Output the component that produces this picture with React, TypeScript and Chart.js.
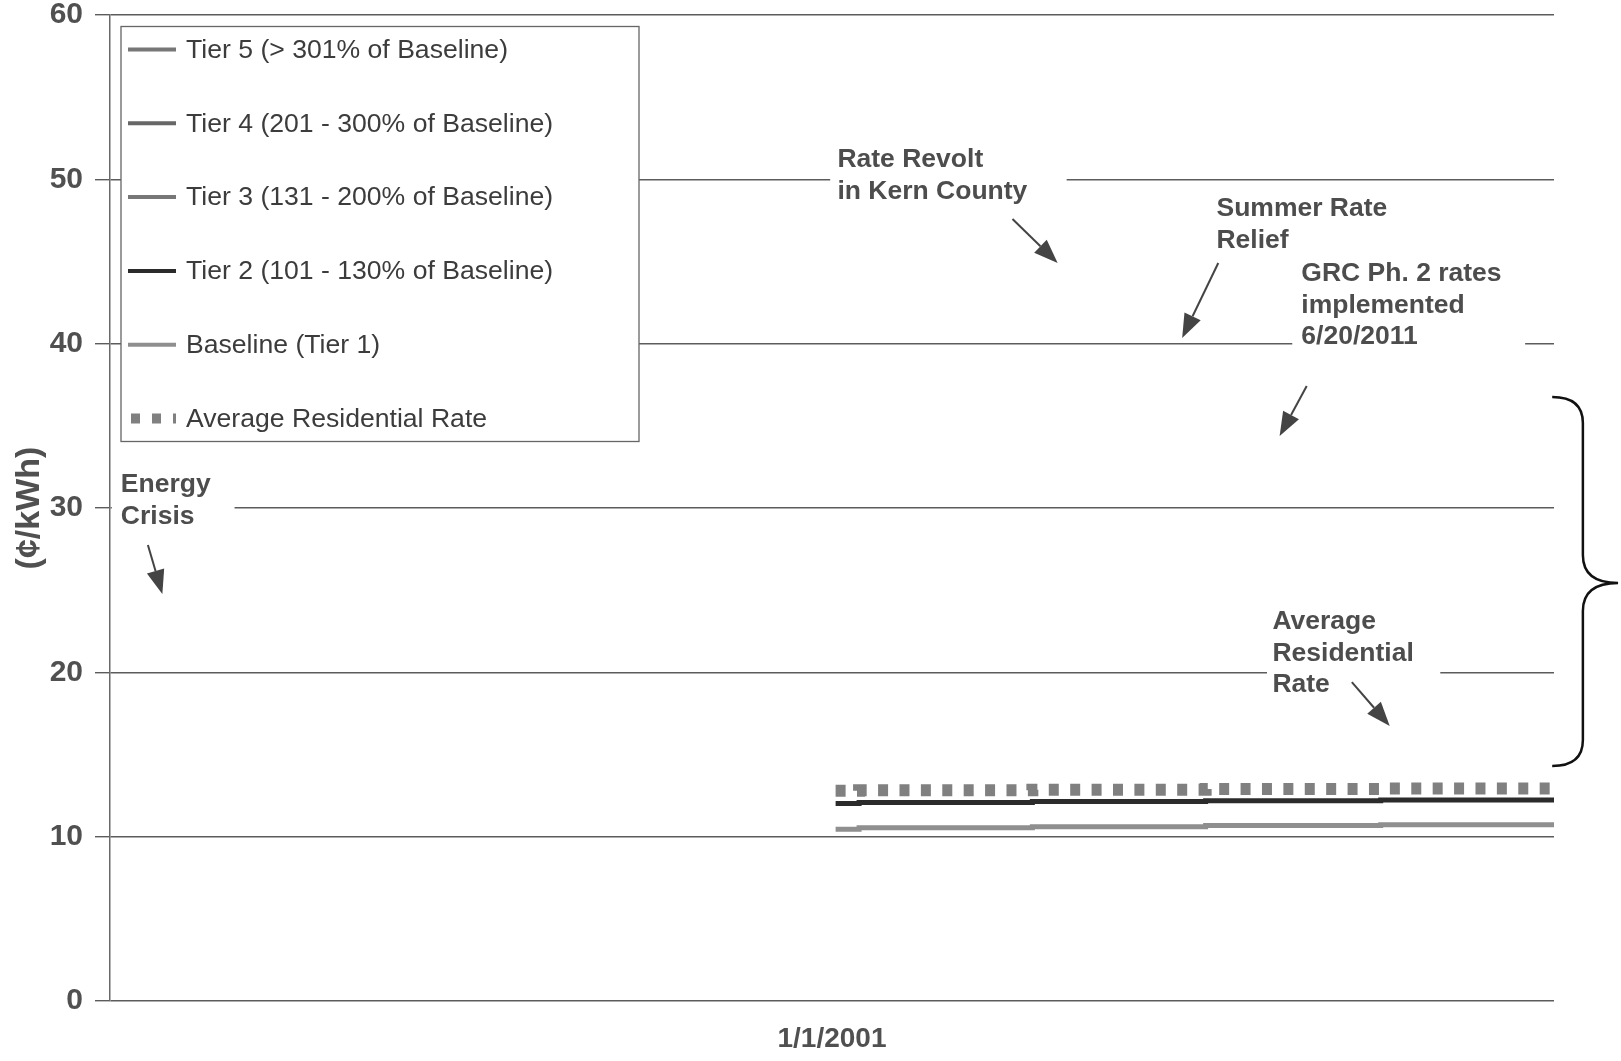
import React, { useEffect, useRef } from 'react';
import { Chart, registerables } from 'chart.js';

Chart.register(...registerables);

const FONT = '"Liberation Sans", Arial, Helvetica, sans-serif';

// ---- axis definitions ----
const X_MIN = 1997;
const X_MAX = 2005;
const X_TICK_VALUES = [2001];
const X_TICK_LABELS = ['1/1/2001'];
const Y_MIN = 0;
const Y_MAX = 60;
const Y_STEP = 10;
const Y_TITLE = '(¢/kWh)';

// ---- series (rate in ¢/kWh, step changes at these dates) ----
const STEP_DATES = [2001.02, 2001.15, 2002.11, 2003.07, 2004.04, 2005.0];
const TIER5_RATE: number[] = [];
const TIER4_RATE: number[] = [];
const TIER3_RATE: number[] = [];
const TIER2_RATE = [12.02, 12.08, 12.14, 12.18, 12.23, 12.23];
const BASELINE_RATE = [10.45, 10.55, 10.6, 10.68, 10.72, 10.72];
const AVERAGE_RATE = [12.8, 12.82, 12.85, 12.9, 12.93, 12.93];

const SERIES_LABELS = [
  'Tier 5 (> 301% of Baseline)',
  'Tier 4 (201 - 300% of Baseline)',
  'Tier 3 (131 - 200% of Baseline)',
  'Tier 2 (101 - 130% of Baseline)',
  'Baseline (Tier 1)',
  'Average Residential Rate',
];

// ---- annotations (anchored in data coordinates) ----
const NOTE_TEXTS = [
  ['Rate Revolt', 'in Kern County'],
  ['Summer Rate', 'Relief'],
  ['GRC Ph. 2 rates', 'implemented', '6/20/2011'],
  ['Energy', 'Crisis'],
  ['Average', 'Residential', 'Rate'],
];
const NOTE_X = [2001.03, 2003.13, 2003.6, 1997.06, 2003.44];
const NOTE_Y = [51.18, 48.2, 44.24, 31.4, 23.06];
// white backing boxes [x0, x1, yTop, yBottom]
const NOTE_BOXES = [
  [2000.99, 2002.3, 52.4, 48.4],
  null,
  [2003.55, 2004.84, 45.4, 39.6],
  [1997.01, 1997.69, 32.3, 28.7],
  [2003.41, 2004.37, 24.1, 18.3],
];
// arrows [xFrom, yFrom, xTo, yTo]
const ARROWS = [
  [2002.0, 47.59, 2002.25, 44.91],
  [2003.14, 44.91, 2002.94, 40.35],
  [2003.63, 37.43, 2003.48, 34.38],
  [1997.21, 27.75, 1997.29, 24.77],
  [2003.88, 19.41, 2004.09, 16.74],
];
// brace: left end x, spine x, tip x, top y, tip y, bottom y
const BRACE = [2004.99, 2005.16, 2005.355, 36.76, 25.44, 14.3];

const toPoints = (ys: number[]) => ys.map((y, i) => ({ x: STEP_DATES[i], y }));

const annotationPlugin = {
  id: 'notes',
  afterDatasetsDraw(chart: any) {
    const { ctx } = chart;
    const xs = chart.scales.x;
    const ys = chart.scales.y;
    const px = (v: number) => xs.getPixelForValue(v);
    const py = (v: number) => ys.getPixelForValue(v);
    ctx.save();
    // white boxes
    ctx.fillStyle = '#ffffff';
    NOTE_BOXES.forEach((b) => {
      if (!b) return;
      ctx.fillRect(px(b[0]), py(b[2]), px(b[1]) - px(b[0]), py(b[3]) - py(b[2]));
    });
    // texts
    ctx.fillStyle = '#4d4d4d';
    ctx.font = `bold 26.5px ${FONT}`;
    ctx.textBaseline = 'middle';
    ctx.textAlign = 'left';
    NOTE_TEXTS.forEach((lines, i) => {
      lines.forEach((t, j) => {
        ctx.fillText(t, px(NOTE_X[i]), py(NOTE_Y[i]) + j * 31.5);
      });
    });
    // arrows
    ctx.strokeStyle = '#444';
    ctx.fillStyle = '#444';
    ctx.lineWidth = 2;
    ARROWS.forEach((a) => {
      const x1 = px(a[0]), y1 = py(a[1]), x2 = px(a[2]), y2 = py(a[3]);
      const ang = Math.atan2(y2 - y1, x2 - x1);
      const hl = 24, hw = 9;
      const bx = x2 - hl * Math.cos(ang), by = y2 - hl * Math.sin(ang);
      ctx.beginPath();
      ctx.moveTo(x1, y1);
      ctx.lineTo(bx, by);
      ctx.stroke();
      ctx.beginPath();
      ctx.moveTo(x2, y2);
      ctx.lineTo(bx + hw * Math.sin(ang), by - hw * Math.cos(ang));
      ctx.lineTo(bx - hw * Math.sin(ang), by + hw * Math.cos(ang));
      ctx.closePath();
      ctx.fill();
    });
    // brace
    const [bl, bs, bt, byTop, byTip, byBot] = BRACE;
    const L = px(bl), S = px(bs), T = px(bt);
    const Y0 = py(byTop), YM = py(byTip), Y1 = py(byBot);
    ctx.strokeStyle = '#111';
    ctx.lineWidth = 2.5;
    ctx.beginPath();
    ctx.moveTo(L, Y0);
    ctx.quadraticCurveTo(S, Y0, S, Y0 + 26);
    ctx.lineTo(S, YM - 28);
    ctx.quadraticCurveTo(S, YM, T, YM);
    ctx.quadraticCurveTo(S, YM, S, YM + 28);
    ctx.lineTo(S, Y1 - 26);
    ctx.quadraticCurveTo(S, Y1, L, Y1);
    ctx.stroke();
    ctx.restore();
  },
};

const legendPlugin = {
  id: 'boxLegend',
  afterDatasetsDraw(chart: any) {
    const { ctx, chartArea } = chart;
    const left = chartArea.left + 11;
    const top = chartArea.top + 11.5;
    const w = 518;
    const h = 415;
    ctx.save();
    ctx.fillStyle = '#ffffff';
    ctx.fillRect(left, top, w, h);
    ctx.strokeStyle = '#666';
    ctx.lineWidth = 1.3;
    ctx.strokeRect(left, top, w, h);
    ctx.font = `26.6px ${FONT}`;
    ctx.textBaseline = 'middle';
    ctx.textAlign = 'left';
    chart.data.datasets.forEach((ds: any, i: number) => {
      const y = top + 23 + i * 73.8;
      ctx.strokeStyle = ds.borderColor;
      if (ds.borderDash && ds.borderDash.length) {
        ctx.lineWidth = 10;
        ctx.setLineDash([9, 12]);
        ctx.beginPath();
        ctx.moveTo(left + 10, y);
        ctx.lineTo(left + 55, y);
        ctx.stroke();
        ctx.setLineDash([]);
      } else {
        ctx.lineWidth = 4;
        ctx.beginPath();
        ctx.moveTo(left + 7, y);
        ctx.lineTo(left + 55, y);
        ctx.stroke();
      }
      ctx.fillStyle = '#3c3c3c';
      ctx.fillText(ds.label, left + 65, y + 1);
    });
    ctx.restore();
  },
};

export default function App() {
  const ref = useRef<HTMLCanvasElement | null>(null);

  useEffect(() => {
    if (!ref.current) return;
    const line = (label: string, data: number[], color: string, width: number, dash: number[] = []) => ({
      label,
      data: toPoints(data),
      borderColor: color,
      backgroundColor: color,
      borderWidth: width,
      borderDash: dash,
      borderCapStyle: 'butt',
      stepped: true,
      pointRadius: 0,
      fill: false,
    });
    const chart = new Chart(ref.current, {
      type: 'line',
      data: {
        datasets: [
          line(SERIES_LABELS[0], TIER5_RATE, '#777777', 5),
          line(SERIES_LABELS[1], TIER4_RATE, '#666666', 5),
          line(SERIES_LABELS[2], TIER3_RATE, '#777777', 5),
          line(SERIES_LABELS[3], TIER2_RATE, '#2b2b2b', 5),
          line(SERIES_LABELS[4], BASELINE_RATE, '#8f8f8f', 5),
          line(SERIES_LABELS[5], AVERAGE_RATE, '#808080', 12, [10, 11.4]),
        ] as any,
      },
      options: {
        responsive: false,
        animation: false,
        events: [],
        layout: { padding: { top: 15, right: 67, left: 0, bottom: 0 } },
        plugins: {
          legend: { display: false },
          tooltip: { enabled: false },
          title: { display: false },
        },
        scales: {
          x: {
            type: 'linear',
            min: X_MIN,
            max: X_MAX,
            afterBuildTicks: (s: any) => {
              s.ticks = X_TICK_VALUES.map((v) => ({ value: v }));
            },
            afterFit: (s: any) => {
              s.height = 60;
              s.paddingLeft = 0;
              s.paddingRight = 0;
            },
            ticks: {
              autoSkip: false,
              maxRotation: 0,
              minRotation: 0,
              padding: 21,
              color: '#505050',
              font: { family: FONT, size: 28, weight: 'bold' },
              callback: (v: any) => {
                const i = X_TICK_VALUES.indexOf(Number(v));
                return i >= 0 ? X_TICK_LABELS[i] : '';
              },
            },
            grid: { display: false, drawTicks: false },
            border: { display: false },
          },
          y: {
            min: Y_MIN,
            max: Y_MAX,
            afterFit: (s: any) => {
              s.width = 110;
              s.paddingTop = 0;
              s.paddingBottom = 0;
            },
            ticks: {
              stepSize: Y_STEP,
              padding: 12,
              color: '#505050',
              font: { family: FONT, size: 30, weight: 'bold', lineHeight: 1 },
            },
            grid: { color: '#5c5c5c', lineWidth: 1.4, tickLength: 15, drawTicks: true },
            border: { display: true, color: '#6a6a6a', width: 1.5 },
            title: {
              display: true,
              text: Y_TITLE,
              color: '#505050',
              padding: { top: 9, bottom: 0 },
              font: { family: FONT, size: 34, weight: 'bold' },
            },
          },
        },
      } as any,
      plugins: [legendPlugin, annotationPlugin],
    });
    return () => chart.destroy();
  }, []);

  return (
    <div style={{ position: 'fixed', left: 0, top: 0, width: 1621, height: 1061, background: '#fff' }}>
      <canvas ref={ref} width={1621} height={1061} style={{ display: 'block' }} />
    </div>
  );
}
